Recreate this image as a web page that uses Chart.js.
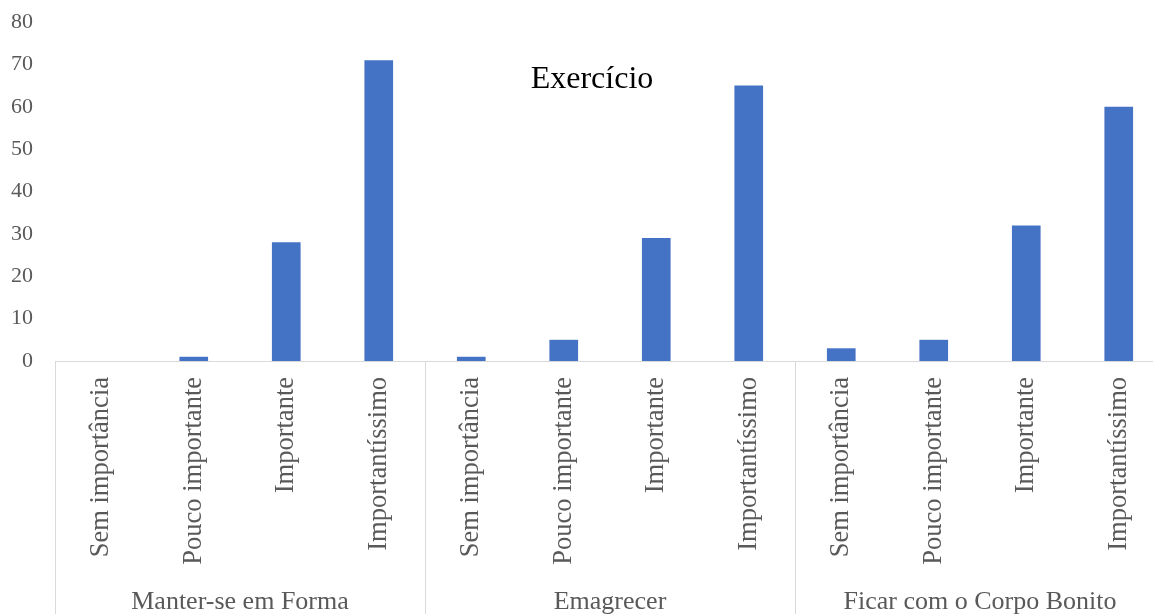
<!DOCTYPE html>
<html>
<head>
<meta charset="utf-8">
<script src="https://cdn.jsdelivr.net/npm/chart.js@4"></script>
<style>
    html, body { margin: 0; padding: 0; background: #fff; }
    #wrap { width: 1153px; height: 614px; overflow: hidden; }
</style>
</head>
<body>
<!-- the plot runs a little past the right edge, as in the original -->
<div id="wrap"><canvas id="myChart" width="1165" height="614"></canvas></div>
<script>
// data
const groups = ['Manter-se em Forma', 'Emagrecer', 'Ficar com o Corpo Bonito'];
const levels = ['Sem importância', 'Pouco importante', 'Importante', 'Importantíssimo'];
const manterValues = [0, 1, 28, 71];
const emagrecerValues = [1, 5, 29, 65];
const ficarValues = [3, 5, 32, 60];
const yMax = 80;
const yStep = 10;
const chartTitle = 'Exercício';

const serif = "'Liberation Serif', 'Times New Roman', serif";

let labels = [];
let values = [];
[manterValues, emagrecerValues, ficarValues].forEach(function(vals) {
    levels.forEach(function(lv, i) {
        labels.push(lv);
        values.push(vals[i]);
    });
});

// group separators, group names and the title
const groupAxis = {
    id: 'groupAxis',
    afterDraw(chart) {
        const ctx = chart.ctx;
        const x = chart.scales.x;
        const area = chart.chartArea;
        const bottom = chart.height;
        const n = levels.length;

        ctx.save();
        ctx.strokeStyle = '#d9d9d9';
        ctx.lineWidth = 1;
        for (let g = 0; g <= groups.length; g++) {
            let px;
            if (g === 0) px = area.left;
            else if (g === groups.length) px = area.right;
            else px = (x.getPixelForValue(g * n - 1) + x.getPixelForValue(g * n)) / 2;
            px = Math.round(px) + 0.5;
            ctx.beginPath();
            ctx.moveTo(px, area.bottom);
            ctx.lineTo(px, bottom);
            ctx.stroke();
        }

        ctx.fillStyle = '#595959';
        ctx.font = '26px ' + serif;
        ctx.textAlign = 'center';
        ctx.textBaseline = 'alphabetic';
        groups.forEach(function(name, g) {
            const cx = (x.getPixelForValue(g * n) + x.getPixelForValue(g * n + n - 1)) / 2;
            ctx.fillText(name, cx, bottom - 5);
        });

        ctx.fillStyle = '#000';
        ctx.font = '32px ' + serif;
        ctx.textBaseline = 'middle';
        ctx.fillText(chartTitle, (area.left + area.right) / 2 - 18, area.top + 58);
        ctx.restore();
    }
};

const ctx = document.getElementById('myChart');
// eslint-disable-next-line no-unused-vars
const myChart = new Chart(ctx, {
    type: 'bar',
    data: {
        labels: labels,
        datasets: [{
            data: values,
            backgroundColor: '#4472c4',
            borderWidth: 0,
            barPercentage: 0.31,
            categoryPercentage: 1
        }]
    },
    options: {
        responsive: false,
        animation: false,
        layout: {
            padding: { left: 0, right: 0, top: 22, bottom: 46 }
        },
        plugins: {
            legend: { display: false },
            tooltip: { enabled: false }
        },
        scales: {
            x: {
                grid: { display: false, drawTicks: false },
                border: { display: true, color: '#d9d9d9', width: 1 },
                afterFit: function(scale) {
                    scale.height = 207;
                    scale.paddingLeft = 0;
                    scale.paddingRight = 0;
                },
                ticks: {
                    minRotation: 90,
                    maxRotation: 90,
                    autoSkip: false,
                    padding: 16,
                    color: '#595959',
                    font: { family: serif, size: 26.5 }
                }
            },
            y: {
                min: 0,
                max: yMax,
                grid: { display: false, drawTicks: false },
                border: { display: false },
                afterFit: function(scale) {
                    scale.width = 55;
                    scale.paddingTop = 0;
                    scale.paddingBottom = 0;
                },
                ticks: {
                    stepSize: yStep,
                    padding: 22,
                    color: '#595959',
                    font: { family: serif, size: 22 }
                }
            }
        }
    },
    plugins: [groupAxis]
});
</script>
</body>
</html>
